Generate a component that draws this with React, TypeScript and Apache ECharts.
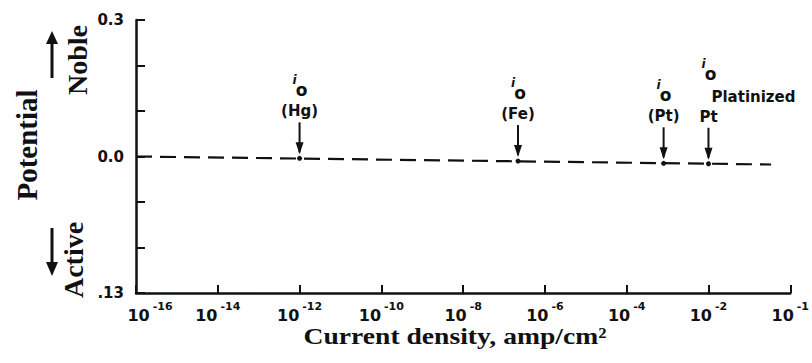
import React, { useEffect, useRef } from "react";
import * as echarts from "echarts";

// Axis ticks and labels
const xTickExponents = [-16, -14, -12, -10, -8, -6, -4, -2, 0];
const xTickBase = "10";
const xTickPowers = ["-16", "-14", "-12", "-10", "-8", "-6", "-4", "-2", "-1"];
const yTickValues = [0.3, 0.0, -0.3];
const yTickLabels = ["0.3", "0.0", ".13"];

// Dashed equilibrium-potential line (current density, potential)
const lineCurrent = [1e-16, 0.34];
const linePotential = [0, -0.0176];

// Exchange current densities i0
const ioNames = ["(Hg)", "(Fe)", "(Pt)", "Pt"];
const ioNotes = ["", "", "", "Platinized"];
const ioCurrent = [1e-12, 2.2e-7, 8e-4, 1e-2];
const ioPotential = [-0.004, -0.01, -0.015, -0.016];

const INK = "#111";
const SANS = '"DejaVu Sans"';
const SERIF = '"Liberation Serif"';

export default function App() {
  const ref = useRef<HTMLDivElement>(null);
  useEffect(() => {
    if (!ref.current) return;
    const chart = echarts.init(ref.current, null, { renderer: "svg" });

    const ioData = ioCurrent.map((c, i) => [Math.log10(c), ioPotential[i], i]);

    const renderItem = (params: any, api: any) => {
      const idx = api.value(2);
      const [px, py] = api.coord([api.value(0), api.value(1)]);
      const hasNote = !!ioNotes[idx];
      const ioLift = hasNote ? 22 : 0;
      const children: any[] = [
        {
          type: "line",
          shape: { x1: px, y1: py - 36, x2: px, y2: py - 6 },
          style: { stroke: INK, lineWidth: 2 },
        },
        {
          type: "polygon",
          shape: { points: [[px - 4, py - 16], [px + 4, py - 16], [px, py - 4]] },
          style: { fill: INK },
        },
        {
          type: "circle",
          shape: { cx: px, cy: py, r: 2.5 },
          style: { fill: INK },
        },
        {
          type: "text",
          x: px,
          y: py - 47,
          style: {
            text: ioNames[idx],
            font: `bold 15px ${SANS}`,
            fill: INK,
            align: "center",
            verticalAlign: "middle",
          },
        },
        {
          type: "text",
          x: px - 5,
          y: py - 78 - ioLift,
          style: {
            text: "i",
            font: `italic bold 12px ${SANS}`,
            fill: INK,
            align: "center",
            verticalAlign: "middle",
          },
        },
        {
          type: "text",
          x: px + 2,
          y: py - 68 - ioLift,
          style: {
            text: "o",
            font: `bold 17px ${SANS}`,
            fill: INK,
            align: "center",
            verticalAlign: "middle",
          },
        },
      ];
      if (hasNote) {
        children.push({
          type: "text",
          x: px + 3,
          y: py - 67,
          style: {
            text: ioNotes[idx],
            font: `bold 15px ${SANS}`,
            fill: INK,
            align: "left",
            verticalAlign: "middle",
          },
        });
      }
      return { type: "group", children };
    };

    const tickFont = {
      fontFamily: SANS,
      fontWeight: "bold" as const,
      fontSize: 15,
      color: INK,
    };
    const baseStyle = { ...tickFont, fontSize: 16, lineHeight: 22, verticalAlign: "bottom" as const };
    const powStyle = {
      ...tickFont,
      fontSize: 11,
      lineHeight: 12,
      verticalAlign: "top" as const,
      padding: [0, 0, 0, 3],
    };

    chart.setOption({
      animation: false,
      backgroundColor: "#fff",
      grid: { left: 136, right: 21, top: 20, bottom: 70 },
      xAxis: {
        type: "value",
        min: -16,
        max: 0,
        interval: 2,
        axisLine: { show: true, onZero: false, lineStyle: { color: INK, width: 2.5 } },
        axisTick: { show: true, inside: true, length: 8, lineStyle: { color: INK, width: 2 } },
        splitLine: { show: false },
        axisLabel: {
          ...tickFont,
          margin: 8,
          formatter: (v: number, index: number) => {
            const i = xTickExponents.findIndex((t) => Math.abs(t - v) < 1e-6);
            if (i < 0) return "";
            const b = index === 0 ? "bf" : "b";
            return `{${b}|${xTickBase}}{s|${xTickPowers[i]}}`;
          },
          rich: {
            b: baseStyle,
            bf: { ...baseStyle, padding: [0, 0, 0, 28] },
            s: powStyle,
          },
        },
      },
      yAxis: {
        type: "value",
        min: -0.3,
        max: 0.3,
        interval: 0.1,
        axisLine: { show: true, onZero: false, lineStyle: { color: INK, width: 2.5 } },
        axisTick: { show: true, inside: true, length: 9, lineStyle: { color: INK, width: 2 } },
        splitLine: { show: false },
        axisLabel: {
          ...tickFont,
          margin: 12,
          formatter: (v: number) => {
            const i = yTickValues.findIndex((t) => Math.abs(t - v) < 1e-6);
            return i >= 0 ? yTickLabels[i] : "";
          },
        },
      },
      series: [
        {
          type: "line",
          data: lineCurrent.map((c, i) => [Math.log10(c), linePotential[i]]),
          symbol: "none",
          lineStyle: { color: INK, width: 2.2, type: [16, 8] },
          silent: true,
        },
        {
          type: "custom",
          data: ioData,
          renderItem,
          silent: true,
        },
      ],
      graphic: [
        {
          type: "text",
          x: 27,
          y: 145,
          rotation: Math.PI / 2,
          style: {
            text: "Potential",
            font: `bold 29px ${SERIF}`,
            fill: INK,
            align: "center",
            verticalAlign: "middle",
          },
        },
        {
          type: "text",
          x: 77,
          y: 60,
          rotation: Math.PI / 2,
          style: {
            text: "Noble",
            font: `bold 28px ${SERIF}`,
            fill: INK,
            align: "center",
            verticalAlign: "middle",
          },
        },
        {
          type: "text",
          x: 73,
          y: 260,
          rotation: Math.PI / 2,
          style: {
            text: "Active",
            font: `bold 28px ${SERIF}`,
            fill: INK,
            align: "center",
            verticalAlign: "middle",
          },
        },
        {
          type: "line",
          shape: { x1: 52, y1: 78, x2: 52, y2: 40 },
          style: { stroke: INK, lineWidth: 3 },
        },
        {
          type: "polygon",
          shape: { points: [[46, 44], [58, 44], [52, 31]] },
          style: { fill: INK },
        },
        {
          type: "line",
          shape: { x1: 52, y1: 228, x2: 52, y2: 266 },
          style: { stroke: INK, lineWidth: 3 },
        },
        {
          type: "polygon",
          shape: { points: [[46, 262], [58, 262], [52, 276]] },
          style: { fill: INK },
        },
        {
          type: "text",
          x: 455,
          y: 336,
          scaleX: 1.15,
          style: {
            text: "Current density, amp/cm²",
            font: `bold 24px ${SERIF}`,
            fill: INK,
            align: "center",
            verticalAlign: "middle",
          },
        },
      ],
    });
    return () => chart.dispose();
  }, []);

  return (
    <div
      ref={ref}
      style={{ position: "fixed", left: 0, top: 0, width: 812, height: 363, background: "#fff" }}
    />
  );
}
